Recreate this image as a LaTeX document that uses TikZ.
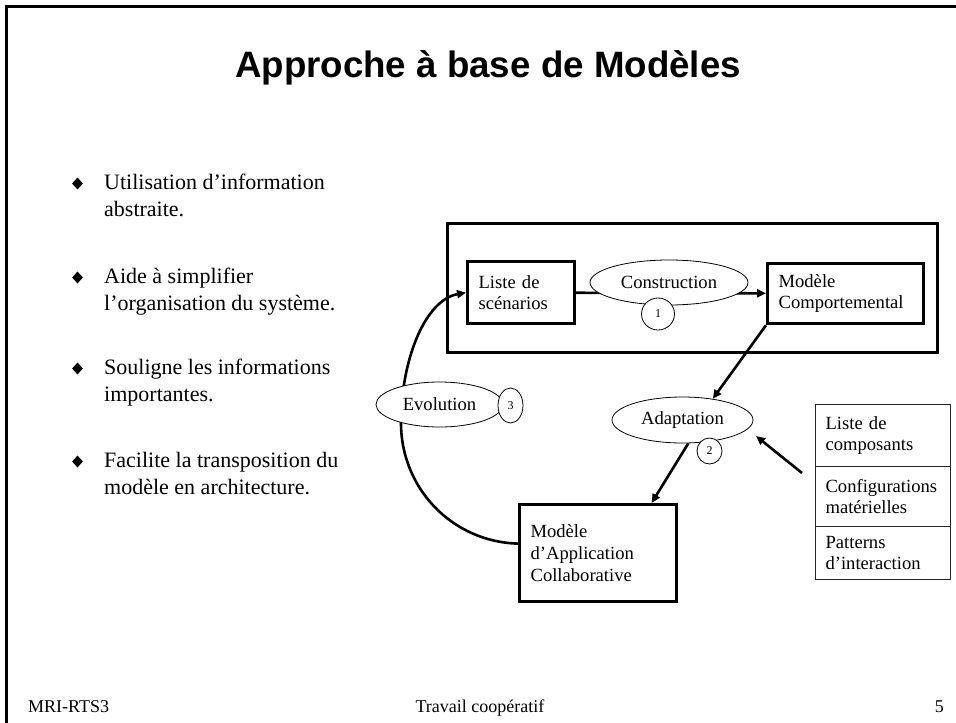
\documentclass[tikz,border=0pt]{standalone}
\usepackage{fontspec}
\setmainfont{Liberation Serif}
\newfontfamily\titlefont{Liberation Sans}
\usetikzlibrary{shapes.geometric,arrows.meta}
\pgfdeclarelayer{bg}
\pgfsetlayers{bg,main}
\tikzset{
  diag/.style={font=\fontsize{18.6}{21.8}\selectfont},
  bigbox/.style={diag,draw,line width=3.2pt,fill=white,align=left,inner xsep=11pt,inner ysep=0pt,anchor=north west},
  oval/.style={diag,ellipse,draw,line width=0.8pt,fill=white,inner sep=0pt},
  num/.style={ellipse,draw,line width=0.8pt,fill=white,inner sep=0pt,font=\fontsize{12}{14}\selectfont},
  cell/.style={diag,draw=black!85,line width=1.1pt,fill=white,align=left,inner xsep=10pt,inner ysep=0pt,anchor=north west,minimum width=135pt,text width=115pt},
  conn/.style={line width=2.6pt,-{Triangle[length=9pt,width=8pt]}},
  plain/.style={line width=2.6pt},
  bul/.style={font=\fontsize{22}{26.7}\selectfont,anchor=base west,inner sep=0pt},
  bmark/.style={diamond,fill=black,inner sep=0pt,minimum width=11pt,minimum height=12pt},
  foot/.style={font=\fontsize{18}{21}\selectfont,inner sep=0pt}
}
\begin{document}
\begin{tikzpicture}[x=1pt,y=-1pt]
\useasboundingbox (0,0) rectangle (956,723);
% slide frame
\draw[line width=3pt] (6,723) -- (6,6) -- (956,6);
% title
\node[font=\titlefont\bfseries\fontsize{36.7}{40}\selectfont,anchor=base,inner sep=0pt] (title) at (488,77.7) {Approche à base de Modèles};
% bullets
\node[bmark] (m1) at (77.5,183.5) {};
\node[bul] (t1a) at (104,189) {Utilisation d’information};
\node[bul] (t1b) at (104,216) {abstraite.};
\node[bmark] (m2) at (77.5,277.5) {};
\node[bul] (t2a) at (104,283) {Aide à simplifier};
\node[bul] (t2b) at (104,310) {l’organisation du système.};
\node[bmark] (m3) at (77.5,368.5) {};
\node[bul] (t3a) at (104,374) {Souligne les informations};
\node[bul] (t3b) at (104,401) {importantes.};
\node[bmark] (m4) at (77.5,461.5) {};
\node[bul] (t4a) at (104,467) {Facilite la transposition du};
\node[bul] (t4b) at (104,494) {modèle en architecture.};
% group box
\node[draw,line width=3pt,minimum width=490pt,minimum height=129pt,inner sep=0pt] (group) at (692,287.5) {};
% boxes
\node[bigbox,minimum width=107pt,minimum height=62pt,text width=85pt] (liste) at (466,260) {Liste de\\scénarios};
\node[bigbox,minimum width=156pt,minimum height=60pt,text width=134pt] (mc) at (766,262) {Modèle\\Comportemental};
\node[bigbox,minimum width=157pt,minimum height=97pt,text width=135pt] (mapp) at (518,503) {Modèle\\d’Application\\Collaborative};
% ovals
\node[oval,minimum width=158pt,minimum height=45pt] (cons) at (669,282.5) {Construction};
\node[num,minimum width=33pt,minimum height=32pt] (n1) at (658,314) {1};
\node[oval,minimum width=141pt,minimum height=46pt] (adapt) at (682.5,420) {Adaptation};
\node[num,minimum width=25pt,minimum height=26pt] (n2) at (709.5,451) {2};
\node[oval,minimum width=127pt,minimum height=45pt] (evol) at (439.5,404.5) {Evolution};
\node[num,minimum width=25pt,minimum height=35pt] (n3) at (510.5,405.5) {3};
% table
\node[cell,minimum height=62pt] (c1) at (815,404) {Liste de\\composants};
\node[cell,minimum height=60pt] (c2) at (815,466) {Configurations\\matérielles};
\node[cell,minimum height=53pt] (c3) at (815,526) {Patterns\\d’interaction};
\coordinate (tabfrom) at (802,473);
\coordinate (tabto) at (756,436);
% connectors
\begin{pgfonlayer}{bg}
\draw[conn] (liste) -- (mc);
\draw[conn] (mc.south west) -- (adapt.35);
\draw[conn] (adapt.-76) -- ([xshift=53.5pt]mapp.north);
\draw[conn] (tabfrom) -- (tabto);
\draw[conn] ([yshift=9.5pt]mapp.west) .. controls (453,542) and (401,489) .. (401,423)
   .. controls (401,360) and (425,300) .. (liste.west);
\end{pgfonlayer}
% footer
\node[foot,anchor=base west] (f1) at (28,712) {MRI-RTS3};
\node[foot,anchor=base] (f2) at (480,712) {Travail coopératif};
\node[foot,anchor=base east] (f3) at (944,712) {5};
\end{tikzpicture}
\end{document}
